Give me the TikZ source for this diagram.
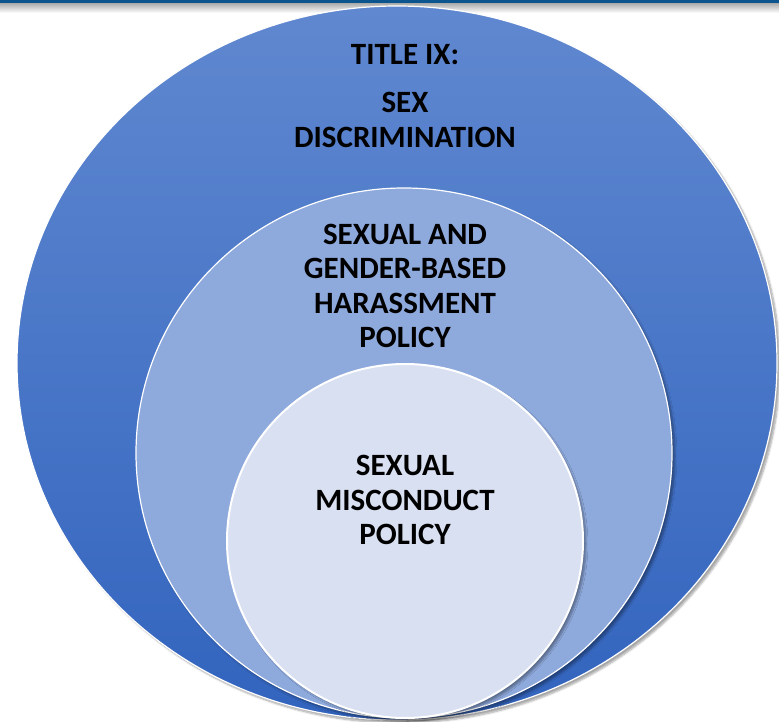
\documentclass[tikz,border=0pt]{standalone}
\usepackage{fontspec}
\setmainfont{Carlito}
\usetikzlibrary{shapes.geometric,shadows.blur}
\definecolor{barblue}{RGB}{12,84,142}
\definecolor{outertop}{RGB}{96,136,208}
\definecolor{outerbot}{RGB}{50,100,190}
\definecolor{midblue}{RGB}{142,169,220}
\definecolor{innerblue}{RGB}{217,224,241}

\begin{document}
\begin{tikzpicture}[x=1pt,y=-1pt,
    ring/.style={ellipse,inner sep=0pt,draw=white,line width=1.2pt,
      blur shadow={shadow xshift=3pt,shadow yshift=-3pt,shadow opacity=35,shadow blur steps=6}},
    ringtext/.style={align=center,font=\fontsize{31}{34.5}\selectfont\bfseries}]
      \useasboundingbox (0,0) rectangle (779,722);
      % top bar
      \fill[barblue] (0,0) rectangle (779,4);
      \shade[top color=black!30,bottom color=white] (0,4) rectangle (779,13);
      % nested ellipses
      \node[ring,top color=outertop,bottom color=outerbot,minimum width=760pt,minimum height=714pt] (outer) at (397,363) {};
      \node[ring,fill=midblue,minimum width=536pt,minimum height=530pt] (middle) at (404,453) {};
      \node[ring,fill=innerblue,line width=2pt,minimum width=356pt,minimum height=354pt] (inner) at (405,541) {};
      % texts
      \node[ringtext] (title) at (405,55) {TITLE IX:};
      \node[ringtext] (sexdisc) at (405,120) {SEX\\DISCRIMINATION};
      \node[ringtext] (harass) at (405,286) {SEXUAL AND\\GENDER-BASED\\HARASSMENT\\POLICY};
      \node[ringtext] (miscond) at (405,500) {SEXUAL\\MISCONDUCT\\POLICY};
    \end{tikzpicture}
\end{document}
